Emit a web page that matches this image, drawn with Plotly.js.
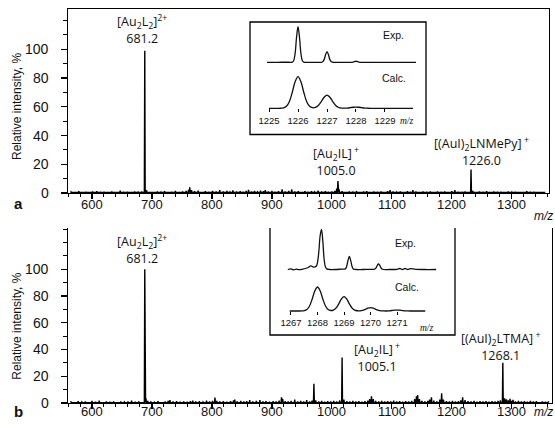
<!DOCTYPE html>
<html><head><meta charset="utf-8">
<script src="https://cdn.plot.ly/plotly-3.0.1.min.js"></script>
<style>html,body{margin:0;padding:0;background:#fff}#chart{width:555px;height:429px}</style>
</head><body><div id="chart"></div>
<script>
// ---------- DATA ----------
// Panel a: full spectrum (m/z, relative intensity %)
const mzA = [565,572,578,584,590,596,601,608,614,620,626,633,640,647,653,659,665,671,677,683,688,691,697,703,709,715,721,727,733,739,745,751,757,761,763,766,771,777,783,789,795,801,807,813,819,825,830,835,841,847,852,857,861,866,871,876,881,886,889,894,900,905,911,917,922,928,933,938,944,950,955,960,966,971,977,983,989,994,1000,1005,1008,1010,1012,1017,1023,1029,1035,1041,1047,1053,1058,1064,1070,1076,1082,1088,1093,1097,1102,1108,1114,1120,1126,1131,1135,1140,1146,1152,1158,1164,1170,1176,1182,1188,1194,1200,1205,1211,1217,1222,1227,1232,1235,1240,1246,1252,1258,1264,1270,1276,1282,1288,1294,1300,1306,1312,1318,1325,1331,1337,1343,1349,1355];
const intA = [0.8,0.5,1.2,0.6,0.9,0.5,1.0,1.2,0.6,0.8,0.5,1.0,0.7,1.6,0.6,0.9,0.5,1.1,0.7,1.0,99,2.0,0.8,0.6,1.0,0.7,1.3,0.6,0.9,1.4,0.7,1.0,1.5,2.2,4.0,2.0,1.2,1.6,0.8,1.3,0.9,1.5,1.0,2.0,1.1,1.4,0.8,1.8,1.0,1.3,0.9,1.5,2.2,1.0,1.4,0.8,1.6,1.2,2.0,1.0,1.4,0.9,1.3,2.5,1.1,1.5,2.6,1.0,1.2,0.8,1.3,0.9,1.2,0.8,1.6,1.0,1.3,0.9,1.1,1.5,3.0,8.3,2.5,1.2,0.8,1.1,0.7,1.2,0.8,1.0,1.3,0.7,1.0,0.6,1.1,0.8,1.3,2.0,1.0,0.7,1.1,0.8,1.2,0.9,2.0,1.0,0.7,1.1,0.6,1.0,0.7,1.1,0.8,1.0,0.6,1.2,2.0,0.9,0.6,1.0,0.7,16.3,1.5,0.8,1.0,0.6,1.2,0.7,1.0,0.6,0.9,0.5,1.0,0.7,0.9,0.5,0.8,1.2,0.6,0.9,0.5,0.8,0.6];
// Panel b: full spectrum
const mzB = [565,571,577,583,589,595,600,606,612,618,624,630,636,642,648,654,660,666,672,678,683,688,690,693,698,704,710,716,722,727,730,735,741,747,753,759,764,768,773,779,785,791,796,801,805,808,813,819,825,831,836,838,842,848,853,858,863,868,874,880,885,890,896,902,907,912,916,918,922,927,932,938,943,948,953,958,963,967,970,973,978,983,988,993,998,1003,1008,1013,1017,1020,1025,1030,1035,1040,1045,1050,1055,1060,1063,1066,1069,1073,1078,1083,1088,1093,1098,1103,1108,1113,1118,1123,1128,1133,1138,1141,1143,1146,1150,1155,1160,1163,1166,1170,1175,1180,1183,1186,1191,1196,1201,1206,1211,1215,1218,1222,1227,1232,1237,1242,1247,1252,1257,1262,1267,1272,1277,1281,1285,1288,1291,1294,1297,1300,1302,1306,1311,1316,1321,1326,1331,1336,1341,1346,1351,1356,1361];
const intB = [1.0,0.6,1.4,0.8,1.1,0.7,1.6,0.9,1.7,0.8,1.2,0.7,1.0,0.6,1.1,0.8,1.2,1.8,0.9,1.2,0.8,100,3.5,1.5,1.0,0.7,1.3,0.8,1.1,1.5,2.2,1.0,1.3,0.7,1.2,0.9,1.3,1.8,1.0,1.4,0.8,1.8,1.0,1.6,4.0,1.5,1.0,1.4,0.9,1.3,2.0,2.6,1.2,1.6,1.0,1.4,2.2,1.1,1.5,2.2,1.0,1.4,0.9,1.3,1.0,1.8,4.2,3.0,1.4,1.0,1.5,2.6,1.2,1.6,1.0,2.2,1.1,1.8,14.3,2.0,1.2,1.5,0.9,1.3,1.0,1.5,1.2,2.0,34,2.5,1.3,1.0,1.6,1.0,1.4,0.9,1.3,1.8,3.0,5.0,3.0,1.5,1.0,1.6,1.1,1.4,1.0,1.7,1.1,1.4,0.9,1.3,1.0,1.5,3.0,5.0,6.0,3.0,1.5,1.0,1.6,2.5,4.2,1.8,1.0,2.5,7.2,2.5,1.3,1.0,1.5,1.0,1.4,2.0,4.2,2.2,1.3,1.0,1.5,0.9,1.3,1.0,1.4,0.9,1.3,1.0,1.5,2.0,30,3.5,2.8,2.0,3.2,1.6,2.4,1.2,1.6,1.0,1.4,0.9,1.5,1.0,1.3,0.8,1.2,0.9,1.1];
const baseLevel = 0.3;

// Inset a: isotope pattern of [(AuI)2LNMePy]+
const insAExpMz  = [1224.93,1225.3,1225.6,1225.75,1225.8,1225.85,1225.9,1225.95,1226.0,1226.05,1226.1,1226.15,1226.2,1226.25,1226.5,1226.8,1226.85,1226.9,1226.95,1227.0,1227.05,1227.1,1227.15,1227.2,1227.25,1227.6,1227.8,1227.9,1228.0,1228.1,1228.2,1228.6,1229.2,1230.07];
const insAExpInt = [0,0,0.2,0,0.4,4.4,25,71,100,71,25,4.4,0.4,0,0,0,1.3,7.5,21,30,21,7.5,1.3,0.1,0,0,0,0.8,3,0.8,0,0,0,0];
const insACalcMz  = [1225.0,1225.3,1225.4,1225.5,1225.6,1225.7,1225.8,1225.9,1226.0,1226.1,1226.2,1226.3,1226.4,1226.5,1226.6,1226.7,1226.8,1226.9,1227.0,1227.1,1227.2,1227.3,1227.4,1227.5,1227.6,1227.7,1227.8,1227.9,1228.0,1228.1,1228.2,1228.3,1228.4,1228.5,1229.97];
const insACalcInt = [0,0,0.2,1.3,6.3,21,50,84,100,84,50,21,6.3,1.8,2.8,8.8,21,35,42,35,21,8.8,2.6,0.5,0.3,0.8,2,3.4,4,3.4,2,0.8,0.25,0,0];
const insATicks = [1225,1226,1227,1228,1229];

// Inset b: isotope pattern of [(AuI)2LTMA]+
const insBExpMz  = [1266.88,1267.0,1267.1,1267.2,1267.3,1267.45,1267.55,1267.65,1267.75,1267.85,1267.95,1268.0,1268.05,1268.1,1268.15,1268.2,1268.25,1268.3,1268.35,1268.45,1268.7,1268.9,1269.05,1269.1,1269.15,1269.2,1269.25,1269.3,1269.35,1269.45,1269.7,1269.95,1270.15,1270.2,1270.25,1270.3,1270.35,1270.4,1270.45,1270.7,1271.0,1271.1,1271.2,1271.3,1271.4,1271.5,1271.7,1272.0,1272.47];
const insBExpInt = [0,1.5,-1,1,-0.5,1,2.5,5,9,6,8,18,45,85,100,71,25,6,1.5,0,0,1,1.5,8,23,33,23,8,1.5,0,0,0.5,1,3.5,10,14,10,3.5,0.6,0,0.5,2.5,0,2.5,0,2,0.5,0,0];
const insBCalcMz  = [1266.95,1267.3,1267.4,1267.5,1267.6,1267.7,1267.8,1267.9,1268.0,1268.1,1268.2,1268.3,1268.4,1268.5,1268.6,1268.7,1268.8,1268.9,1269.0,1269.1,1269.2,1269.3,1269.4,1269.5,1269.6,1269.7,1269.8,1269.9,1270.0,1270.1,1270.2,1270.3,1270.4,1270.5,1270.6,1270.7,1270.8,1270.9,1271.0,1271.1,1271.2,1271.3,1271.4,1271.5,1272.06];
const insBCalcInt = [0,0,0.2,1.3,6.3,21,50,84,100,84,50,21,6.3,2.1,4,12.6,30,50,60,50,30,12.6,3.8,1,0.9,2.9,7,11.8,14,11.8,7,2.9,0.9,0.2,0.1,0.8,2,3.4,4,3.4,2,0.8,0.25,0,0];
const insBTicks = [1267,1268,1269,1270,1271];

const mainXTicks = [600,700,800,900,1000,1100,1200,1300];
const mainYTicks = [0,20,40,60,80,100];

// ---------- BUILD ----------
function sticks(mz, h){
  const xs=[], ys=[];
  for (let i=0;i<mz.length;i++){ xs.push(mz[i]-0.7, mz[i], mz[i]+0.7); ys.push(baseLevel, h[i], baseLevel); }
  return {xs, ys};
}
const sa = sticks(mzA, intA), sb = sticks(mzB, intB);

// pixel -> paper helpers (plot area: x 68..552, y 9..403)
const L=68, R=552, T=9, B=403, W=R-L, H=B-T;
const px = p => (p-L)/W, py = p => (B-p)/H;
function dom(base, top){ const k=(base-top)/100; return [py(base+5*k), py(top-5*k)]; }

const lineStyle = {color:'#000', width:1.4};
const insLine = {color:'#111', width:1.3, shape:'spline', smoothing:1};
const traces = [
  {x:sa.xs, y:sa.ys, xaxis:'x', yaxis:'y', mode:'lines', line:lineStyle, hoverinfo:'skip'},
  {x:sb.xs, y:sb.ys, xaxis:'x2', yaxis:'y2', mode:'lines', line:lineStyle, hoverinfo:'skip'},
  {x:insACalcMz, y:insACalcInt, xaxis:'x3', yaxis:'y3', mode:'lines', line:insLine},
  {x:insAExpMz, y:insAExpInt, xaxis:'x4', yaxis:'y4', mode:'lines', line:insLine},
  {x:insBCalcMz, y:insBCalcInt, xaxis:'x5', yaxis:'y5', mode:'lines', line:insLine},
  {x:insBExpMz, y:insBExpInt, xaxis:'x6', yaxis:'y6', mode:'lines', line:insLine}
];

const xTickFont = {family:'Liberation Sans, Arial, sans-serif', size:13, color:'#111'};
const yTickFont = {family:'Liberation Sans, Arial, sans-serif', size:14, color:'#111'};
const insTickFont = {family:'Liberation Sans, Arial, sans-serif', size:9.5, color:'#111'};
const mainX = (dom, anchor, range, mirror) => ({
  domain:dom, anchor:anchor, range:range, showgrid:false, zeroline:false,
  showline:true, linecolor:'#000', linewidth:1.3, mirror:mirror,
  tickmode:'array', tickvals:mainXTicks, ticks:'outside', ticklen:5, tickwidth:1.2, tickcolor:'#000',
  minor:{tickmode:'linear', tick0:0, dtick:20, ticks:'outside', ticklen:3, tickwidth:1, tickcolor:'#000'},
  showticklabels:false
});
const mainY = (dom, anchor, range) => ({
  domain:dom, anchor:anchor, range:range, showgrid:false, zeroline:false,
  showline:true, linecolor:'#000', linewidth:1.3, mirror:true,
  tickmode:'array', tickvals:mainYTicks, ticks:'outside', ticklen:6, tickwidth:1.2, tickcolor:'#000',
  minor:{tickmode:'linear', tick0:0, dtick:10, ticks:'outside', ticklen:4, tickwidth:1, tickcolor:'#000'},
  showticklabels:false
});
const insX = (d, range, ticks, pos, show) => ({
  domain:d, anchor:'free', position:pos, range:range,
  showgrid:false, zeroline:false, showline:false,
  tickmode:'array', tickvals:ticks, ticks: show?'outside':'', ticklen:3, tickwidth:1, tickcolor:'#000',
  showticklabels:show, tickfont:insTickFont
});
const insY = (d) => ({domain:d, range:[-5,105], visible:false, showgrid:false, zeroline:false, fixedrange:true});

const layout = {
  width:555, height:429, margin:{l:L, r:555-R, t:T, b:429-B},
  paper_bgcolor:'#fff', plot_bgcolor:'rgba(0,0,0,0)', showlegend:false,
  xaxis: mainX([0, (549-L)/W], 'y', [560, 1362], true),
  yaxis: mainY([py(193), 1], 'x', [0, 128]),
  xaxis2: mainX([0, 1], 'y2', [560, 1367], false),
  yaxis2: mainY([0, py(228)], 'x2', [0, 130.8]),
  xaxis3: insX([px(267), px(416)], [1224.93, 1230.07], insATicks, py(108.3), true),
  yaxis3: insY(dom(108.3, 76.7)),
  xaxis4: insX([px(267), px(416)], [1224.93, 1230.07], insATicks, py(62.3), false),
  yaxis4: insY(dom(62.3, 26.7)),
  xaxis5: insX([px(287), px(436.9)], [1266.85, 1272.5], insBTicks, py(311), true),
  yaxis5: insY(dom(311, 287)),
  xaxis6: insX([px(287), px(436.9)], [1266.85, 1272.5], insBTicks, py(269.5), false),
  yaxis6: insY(dom(269.5, 229.5)),
  shapes: [
    {type:'rect', xref:'paper', yref:'paper', x0:px(250), x1:px(426), y0:py(134.5), y1:py(22), line:{color:'#000', width:1.3}},
    {type:'path', xref:'paper', yref:'paper', path:`M ${px(270)} ${py(228)} L ${px(270)} ${py(335)} L ${px(455)} ${py(335)} L ${px(455)} ${py(228)}`, line:{color:'#000', width:1.3}}
  ],
  annotations: []
};

const annFont = {family:'Open Sans, sans-serif', size:12.5, color:'#111'};
const smallFont = {family:'Liberation Sans, Arial, sans-serif', size:10.5, color:'#111'};
function ann(text, x, y, font, extra){
  layout.annotations.push(Object.assign({text:text, xref:'paper', yref:'paper', x:px(x), y:py(y), xanchor:'center', yanchor:'middle', showarrow:false, font:font}, extra||{}));
}
// main axis tick labels, placed on the axes' own scales
[['x','y',204],['x2','y2',412]].forEach(([xa, ya, ypx]) => {
  mainXTicks.forEach(v => layout.annotations.push({text:String(v), xref:xa, yref:'paper', x:v, y:py(ypx), xanchor:'center', yanchor:'middle', showarrow:false, font:xTickFont}));
  mainYTicks.forEach(v => layout.annotations.push({text:String(v), xref:'paper', yref:ya, x:px(51), y:v, xanchor:'right', yanchor:'middle', showarrow:false, font:yTickFont}));
});
// panel a labels
ann('[Au<sub>2</sub>L<sub>2</sub>]<sup>2+</sup><br>681.2', 142, 29, annFont);
ann('[Au<sub>2</sub>IL]<sup> +</sup><br>1005.0', 336, 161.7, annFont);
ann('[(AuI)<sub>2</sub>LNMePy]<sup> +</sup><br>1226.0', 481, 151, annFont);
// panel b labels
ann('[Au<sub>2</sub>L<sub>2</sub>]<sup>2+</sup><br>681.2', 142, 249.7, annFont);
ann('[Au<sub>2</sub>IL]<sup> +</sup><br>1005.1', 376.5, 357, annFont);
ann('[(AuI)<sub>2</sub>LTMA]<sup> +</sup><br>1268.1', 500, 346, annFont);
// inset texts
ann('Exp.', 393, 35, smallFont);
ann('Calc.', 394, 78, smallFont);
ann('<i>m/z</i>', 406.7, 121, {family:'Liberation Serif, serif', size:9.5, color:'#111'});
ann('Exp.', 405, 243.3, smallFont);
ann('Calc.', 406.7, 287.3, smallFont);
ann('<i>m/z</i>', 426.7, 327.5, {family:'Liberation Serif, serif', size:9.5, color:'#111'});
// axis extras
ann('<i>m/z</i>', 543, 216, {family:'Liberation Sans, Arial, sans-serif', size:12, color:'#111'});
ann('<i>m/z</i>', 543, 412, {family:'Liberation Sans, Arial, sans-serif', size:12, color:'#111'});
ann('<b>a</b>', 18, 203, {family:'Liberation Sans, Arial, sans-serif', size:15, color:'#111'});
ann('<b>b</b>', 18, 412, {family:'Liberation Sans, Arial, sans-serif', size:15, color:'#111'});
ann('Relative intensity, %', 17, 107, {family:'Liberation Sans, Arial, sans-serif', size:12, color:'#111'}, {textangle:-90});
ann('Relative intensity, %', 17, 326.7, {family:'Liberation Sans, Arial, sans-serif', size:12, color:'#111'}, {textangle:-90});

Plotly.newPlot('chart', traces, layout, {staticPlot:true, displayModeBar:false});
</script>
</body></html>
